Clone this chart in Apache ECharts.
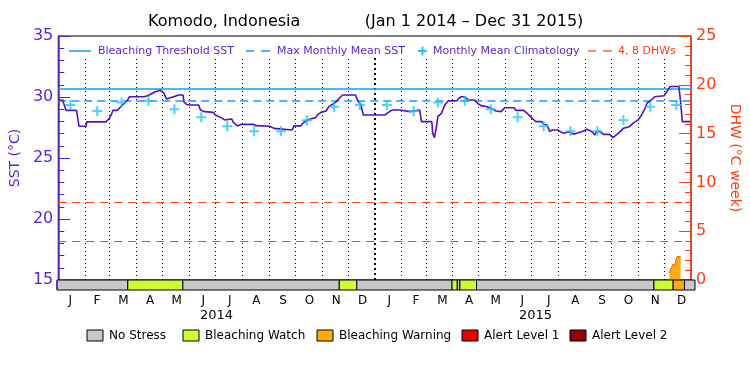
<!DOCTYPE html>
<html>
<head>
<meta charset="utf-8">
<script src="https://cdn.jsdelivr.net/npm/echarts@6/dist/echarts.min.js"></script>
<style>
  html, body { margin: 0; padding: 0; background: #fff; }
  #chart { width: 750px; height: 375px; }
</style>
</head>
<body>
<div id="chart"></div>
<script>
  // daily SST
  var sstDates = [
    '2014-01-01','2014-01-06','2014-01-10','2014-01-22','2014-01-25','2014-02-02','2014-02-03','2014-02-25',
    '2014-03-01','2014-03-03','2014-03-05','2014-03-10','2014-03-14','2014-03-18','2014-03-22','2014-03-24',
    '2014-04-10','2014-04-14','2014-04-17','2014-04-23','2014-04-29',
    '2014-05-03','2014-05-06','2014-05-14','2014-05-20','2014-05-25','2014-05-26','2014-05-29',
    '2014-06-02','2014-06-12','2014-06-14','2014-06-19','2014-06-29',
    '2014-07-01','2014-07-08','2014-07-12','2014-07-20','2014-07-22','2014-07-27','2014-07-31',
    '2014-08-14','2014-08-17',
    '2014-09-02','2014-09-07','2014-09-28','2014-09-30',
    '2014-10-08','2014-10-10','2014-10-14','2014-10-19','2014-10-25','2014-10-27','2014-10-31',
    '2014-11-06','2014-11-09','2014-11-13','2014-11-17','2014-11-21','2014-11-25',
    '2014-12-10','2014-12-12','2014-12-16','2014-12-19','2014-12-31',
    '2015-01-13','2015-01-17','2015-01-21','2015-01-30',
    '2015-02-01','2015-02-11','2015-02-13','2015-02-22','2015-02-24',
    '2015-03-08','2015-03-09','2015-03-11','2015-03-13','2015-03-15','2015-03-19','2015-03-23','2015-03-27',
    '2015-04-06','2015-04-08','2015-04-11','2015-04-15','2015-04-19','2015-04-26','2015-04-30',
    '2015-05-04','2015-05-11','2015-05-17','2015-05-21','2015-05-27','2015-05-31',
    '2015-06-11','2015-06-13','2015-06-22','2015-06-26',
    '2015-07-02','2015-07-06','2015-07-13','2015-07-15','2015-07-19','2015-07-22','2015-07-25','2015-07-31',
    '2015-08-02','2015-08-07','2015-08-13','2015-08-19','2015-08-22','2015-08-28',
    '2015-09-03','2015-09-09','2015-09-12','2015-09-14','2015-09-18','2015-09-22','2015-09-29',
    '2015-10-03','2015-10-09','2015-10-15','2015-10-22','2015-10-26',
    '2015-11-01','2015-11-05','2015-11-09','2015-11-11','2015-11-16','2015-11-20',
    '2015-12-01','2015-12-04','2015-12-08','2015-12-18','2015-12-20','2015-12-22','2015-12-31'
  ];
  var sstValues = [
    29.75,29.75,28.9,28.9,27.6,27.6,27.96,27.96,
    28.25,28.53,28.9,28.9,29.2,29.47,29.75,30.02,
    30.02,30.1,30.2,30.43,30.55,
    30.29,29.83,30.02,30.16,30.16,29.6,29.39,
    29.34,29.34,28.93,28.8,28.74,
    28.53,28.31,28.12,28.2,27.92,27.63,27.76,
    27.76,27.65,
    27.6,27.43,27.3,27.63,
    27.63,27.84,28.04,28.2,28.31,28.53,28.74,
    28.85,29.2,29.39,29.56,29.88,30.16,
    30.16,29.75,29.39,28.53,28.53,
    28.53,28.74,28.93,28.93,
    28.8,28.8,28.93,28.93,27.98,
    27.98,27.02,26.67,27.43,28.39,28.66,29.34,29.69,
    29.69,29.88,30.02,30.02,29.75,29.75,29.47,
    29.29,29.2,29.02,28.85,28.8,29.12,
    29.12,28.9,28.9,28.66,
    28.25,27.98,27.98,27.76,27.71,27.16,27.3,27.3,
    27.16,27.02,27.16,26.94,27.02,27.16,
    27.35,27.16,26.89,27.16,27.16,26.94,26.94,
    26.67,27.02,27.43,27.57,27.84,
    28.12,28.53,29.07,29.47,29.75,30.02,
    30.1,30.43,30.86,30.86,29.6,27.98,27.98
  ];

  // monthly mean climatology, plotted mid-month in both years
  var climYears = [2014, 2015];
  var climValues = [29.35, 28.85, 29.55, 29.7, 29.0, 28.35, 27.6, 27.2, 27.2, 28.1, 29.2, 29.35];

  var bleachThreshold = 30.7;
  var maxMonthlyMean = 29.7;
  var dhwLevels = [4, 8];

  // degree heating weeks
  var dhwDates = ['2015-12-07','2015-12-09','2015-12-11','2015-12-14','2015-12-16','2015-12-20'];
  var dhwValues = [0.7, 1.2, 1.6, 1.9, 2.4, 2.4];

  // stress level bar: 0 no stress, 1 watch, 2 warning, 3 alert 1, 4 alert 2
  var statusStart = ['2014-01-01','2014-03-23','2014-05-25','2014-11-20','2014-12-10','2015-03-29','2015-04-04','2015-04-07','2015-04-26','2015-11-15','2015-12-07','2015-12-20'];
  var statusEnd   = ['2014-03-23','2014-05-25','2014-11-20','2014-12-10','2015-03-29','2015-04-04','2015-04-07','2015-04-26','2015-11-15','2015-12-07','2015-12-20','2016-01-01'];
  var statusLevel = [0, 1, 0, 1, 0, 1, 0, 1, 0, 1, 2, 0];
  var statusNames = ['No Stress', 'Bleaching Watch', 'Bleaching Warning', 'Alert Level 1', 'Alert Level 2'];

  var monthLabels = ['J','F','M','A','M','J','J','A','S','O','N','D','J','F','M','A','M','J','J','A','S','O','N','D'];
  var yearLabels = ['2014', '2015'];

  var purple = '#5a1ed2';
  var orange = '#ff3c0f';
  var blue = '#109cff';
  var cyan = '#1ec4ff';
  var statusColors = ['#c8c8c8', '#ccff33', '#ffaa11', '#ee0000', '#990000'];
  var font = '"DejaVu Sans", sans-serif';

  function ts(s) {
    var p = s.split('-');
    return new Date(+p[0], +p[1] - 1, +p[2]).getTime();
  }
  var tMin = ts('2014-01-01'), tMax = ts('2016-01-01');

  var sstData = sstDates.map(function(d, i) { return [ts(d), sstValues[i]]; });
  var climData = [];
  climYears.forEach(function(y) {
    climValues.forEach(function(v, m) { climData.push([new Date(y, m, 15).getTime(), v]); });
  });
  var dhwData = dhwDates.map(function(d, i) { return [ts(d), dhwValues[i]]; });
  var statusData = statusStart.map(function(d, i) { return [ts(d), ts(statusEnd[i]), statusLevel[i]]; });

  // dotted month dividers, bolder at the new year
  var monthLines = [];
  for (var y = 2014; y <= 2015; y++) {
    for (var m = 0; m < 12; m++) {
      if (y === 2014 && m === 0) continue;
      var t = new Date(y, m, 1).getTime();
      var w = (m === 0) ? 2 : 1;
      monthLines.push([
        { coord: [t, 15], lineStyle: { color: '#000', width: w, type: [w, 3] } },
        { coord: [t, 33.2] }
      ]);
    }
  }

  var legendTop = [
    { type: 'line', shape: { x1: 69, y1: 51, x2: 91, y2: 51 }, style: { stroke: blue, lineWidth: 1.5 } },
    { type: 'text', x: 98, y: 51, style: { text: 'Bleaching Threshold SST', fill: purple, font: '11px ' + font, verticalAlign: 'middle' } },
    { type: 'line', shape: { x1: 246, y1: 51, x2: 254, y2: 51 }, style: { stroke: blue, lineWidth: 1.5 } },
    { type: 'line', shape: { x1: 261, y1: 51, x2: 270, y2: 51 }, style: { stroke: blue, lineWidth: 1.5 } },
    { type: 'text', x: 277, y: 51, style: { text: 'Max Monthly Mean SST', fill: purple, font: '11px ' + font, verticalAlign: 'middle' } },
    { type: 'line', shape: { x1: 418, y1: 51, x2: 427, y2: 51 }, style: { stroke: cyan, lineWidth: 2 } },
    { type: 'line', shape: { x1: 422.5, y1: 46.5, x2: 422.5, y2: 55.5 }, style: { stroke: cyan, lineWidth: 2 } },
    { type: 'text', x: 433, y: 51, style: { text: 'Monthly Mean Climatology', fill: purple, font: '11px ' + font, verticalAlign: 'middle' } },
    { type: 'line', shape: { x1: 588, y1: 51, x2: 596, y2: 51 }, style: { stroke: orange, lineWidth: 1.2 } },
    { type: 'line', shape: { x1: 603, y1: 51, x2: 612, y2: 51 }, style: { stroke: orange, lineWidth: 1.2 } },
    { type: 'text', x: 618, y: 51, style: { text: '4, 8 DHWs', fill: orange, font: '11px ' + font, verticalAlign: 'middle' } }
  ];

  var legendBottomX = [87, 183, 317, 462, 570];
  var legendBottom = [];
  statusNames.forEach(function(name, i) {
    legendBottom.push({ type: 'rect', shape: { x: legendBottomX[i], y: 330, width: 16, height: 11 }, style: { fill: statusColors[i], stroke: '#000', lineWidth: 1 } });
    legendBottom.push({ type: 'text', x: legendBottomX[i] + 22, y: 336, style: { text: name, fill: '#000', font: '12px ' + font, verticalAlign: 'middle' } });
  });

  var chart = echarts.init(document.getElementById('chart'));
  chart.setOption({
    animation: false,
    backgroundColor: '#fff',
    textStyle: { fontFamily: font },
    graphic: [
      { type: 'text', x: 148, y: 22, style: { text: 'Komodo, Indonesia', fill: '#000', font: '16px ' + font, verticalAlign: 'middle' } },
      { type: 'text', x: 474, y: 22, style: { text: '(Jan 1 2014 \u2013 Dec 31 2015)', fill: '#000', font: '16px ' + font, align: 'center', verticalAlign: 'middle' } },
      // axis line continues down the status bar
      { type: 'line', shape: { x1: 57, y1: 280, x2: 57, y2: 290 }, style: { stroke: purple, lineWidth: 1.5 }, z: 10 }
    ].concat(legendTop, legendBottom),
    grid: [
      { left: 57, right: 55, top: 36, height: 244, show: true, borderColor: '#000', borderWidth: 1, backgroundColor: 'transparent' },
      { left: 57, right: 55, top: 280, height: 10 }
    ],
    xAxis: [
      { type: 'time', gridIndex: 0, min: tMin, max: tMax, show: false },
      { type: 'time', gridIndex: 1, min: tMin, max: tMax, show: false, position: 'top' },
      {
        type: 'category', gridIndex: 1, position: 'bottom', data: monthLabels, boundaryGap: true,
        axisLine: { show: false }, axisTick: { show: false },
        axisLabel: { color: '#000', fontSize: 12, margin: 5, interval: 0 }
      },
      {
        type: 'category', gridIndex: 1, position: 'bottom', offset: 14, data: yearLabels, boundaryGap: true,
        axisLine: { show: false }, axisTick: { show: false },
        axisLabel: { color: '#000', fontSize: 13, margin: 5, interval: 0 }
      }
    ],
    yAxis: [
      {
        type: 'value', gridIndex: 0, position: 'left', min: 15, max: 35, interval: 5,
        axisLine: { show: true, lineStyle: { color: purple, width: 1.5 } },
        axisTick: { show: true, inside: true, length: 12, lineStyle: { color: purple } },
        minorTick: { show: true, splitNumber: 5, length: 6, lineStyle: { color: purple } },
        axisLabel: { color: purple, fontSize: 16, margin: 5 },
        splitLine: { show: false },
        name: 'SST (\u00B0C)', nameLocation: 'middle', nameGap: 34,
        nameTextStyle: { color: purple, fontSize: 14 }
      },
      {
        type: 'value', gridIndex: 0, position: 'right', min: 0, max: 25, interval: 5,
        axisLine: { show: true, lineStyle: { color: orange, width: 1.5 } },
        axisTick: { show: true, inside: true, length: 12, lineStyle: { color: orange } },
        minorTick: { show: true, splitNumber: 5, length: 6, lineStyle: { color: orange } },
        axisLabel: { color: orange, fontSize: 16, margin: 5 },
        splitLine: { show: false },
        name: 'DHW (\u00B0C week)', nameLocation: 'middle', nameGap: 37, nameRotate: -90,
        nameTextStyle: { color: orange, fontSize: 14 }
      },
      { type: 'value', gridIndex: 1, min: 0, max: 1, show: false }
    ],
    series: [
      {
        name: 'DHW', type: 'line', xAxisIndex: 0, yAxisIndex: 1, data: dhwData,
        step: 'end', showSymbol: false, z: 3,
        lineStyle: { color: '#ff5a00', width: 1 },
        areaStyle: { color: '#ffaa11', opacity: 1 },
        markLine: {
          silent: true, symbol: ['none', 'none'], label: { show: false },
          lineStyle: { color: orange, width: 1, type: [8, 6] },
          data: dhwLevels.map(function(v) { return { yAxis: v }; })
        }
      },
      {
        name: 'SST', type: 'line', xAxisIndex: 0, yAxisIndex: 0, data: sstData,
        showSymbol: false, z: 5,
        lineStyle: { color: '#5010c4', width: 1.6 },
        markLine: {
          silent: true, symbol: ['none', 'none'], label: { show: false }, z: 2,
          data: monthLines.concat([
            { yAxis: bleachThreshold, lineStyle: { color: blue, width: 1.5, type: 'solid' } },
            { yAxis: maxMonthlyMean, lineStyle: { color: blue, width: 1.5, type: [8, 5] } }
          ])
        }
      },
      {
        name: 'Climatology', type: 'scatter', xAxisIndex: 0, yAxisIndex: 0, data: climData, z: 6,
        symbol: 'path://M0,4H10V6H0Z M4,0H6V10H4Z', symbolSize: 10,
        itemStyle: { color: cyan }
      },
      {
        name: 'Stress', type: 'custom', xAxisIndex: 1, yAxisIndex: 2, data: statusData, z: 4,
        renderItem: function(params, api) {
          var p0 = api.coord([api.value(0), 1]);
          var p1 = api.coord([api.value(1), 0]);
          return {
            type: 'rect',
            shape: { x: p0[0], y: p0[1], width: p1[0] - p0[0], height: p1[1] - p0[1] },
            style: { fill: statusColors[api.value(2)], stroke: '#000', lineWidth: 1 }
          };
        }
      }
    ]
  });
</script>
</body>
</html>
